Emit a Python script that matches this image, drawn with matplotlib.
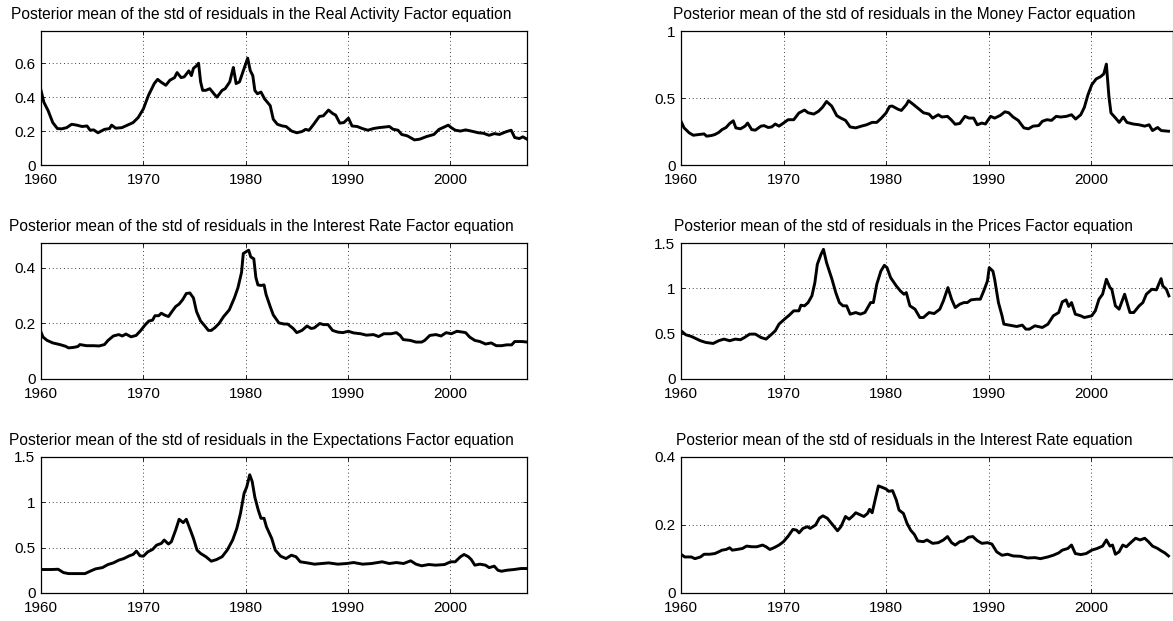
import numpy as np
import matplotlib
matplotlib.use('Agg')
import matplotlib.pyplot as plt
from matplotlib.ticker import FuncFormatter

plt.rcParams['font.family'] = ['Liberation Sans', 'DejaVu Sans']

# ─────────────────────────────────────────────
# Data: posterior mean of the std of residuals
# ─────────────────────────────────────────────
real_yr = [1960.0, 1960.28, 1960.7, 1961.15, 1961.6, 1962.0, 1962.5, 1963.0, 1963.5, 1964.0,
           1964.5, 1964.8, 1965.15, 1965.57, 1966.2, 1966.7, 1966.9, 1967.3, 1967.9, 1968.45,
           1969.0, 1969.5, 1970.0, 1970.5, 1971.07, 1971.4, 1971.7, 1972.2, 1972.6, 1973.05,
           1973.3, 1973.7, 1974.0, 1974.45, 1974.7, 1974.9, 1975.2, 1975.4, 1975.6, 1975.8,
           1976.1, 1976.5, 1976.9, 1977.2, 1977.7, 1978.0, 1978.45, 1978.65, 1978.8, 1979.07,
           1979.4, 1979.77, 1980.0, 1980.2, 1980.45, 1980.7, 1980.9, 1981.15, 1981.5, 1981.85,
           1982.4, 1982.7, 1983.1, 1983.6, 1983.95, 1984.5, 1985.0, 1985.5, 1985.85, 1986.2,
           1986.65, 1987.2, 1987.6, 1988.1, 1988.5, 1988.8, 1989.2, 1989.6, 1990.05, 1990.4,
           1990.9, 1991.4, 1991.95, 1992.5, 1993.0, 1994.05, 1994.4, 1994.9, 1995.25, 1995.8,
           1996.5, 1997.0, 1997.7, 1998.4, 1998.9, 1999.45, 1999.8, 2000.1, 2000.5, 2001.0,
           2001.5, 2002.05, 2002.75, 2003.25, 2003.8, 2004.3, 2004.8, 2005.5, 2005.95, 2006.3,
           2006.75, 2007.1, 2007.5]
real_sd = [0.44, 0.37, 0.32, 0.25, 0.215, 0.213, 0.22, 0.24, 0.235, 0.227,
           0.23, 0.205, 0.207, 0.19, 0.21, 0.215, 0.235, 0.217, 0.22, 0.235,
           0.25, 0.28, 0.33, 0.41, 0.48, 0.505, 0.49, 0.47, 0.50, 0.515,
           0.545, 0.515, 0.52, 0.555, 0.527, 0.57, 0.585, 0.60, 0.49, 0.44,
           0.44, 0.45, 0.42, 0.40, 0.44, 0.45, 0.49, 0.54, 0.575, 0.48,
           0.49, 0.555, 0.595, 0.63, 0.557, 0.527, 0.44, 0.42, 0.43, 0.39,
           0.35, 0.27, 0.24, 0.23, 0.227, 0.20, 0.19, 0.197, 0.21, 0.205,
           0.24, 0.286, 0.29, 0.324, 0.304, 0.294, 0.247, 0.25, 0.276, 0.23,
           0.227, 0.215, 0.205, 0.215, 0.22, 0.227, 0.211, 0.205, 0.18, 0.172,
           0.148, 0.152, 0.168, 0.18, 0.21, 0.225, 0.235, 0.22, 0.205, 0.20,
           0.207, 0.20, 0.19, 0.187, 0.175, 0.185, 0.18, 0.197, 0.205, 0.162,
           0.156, 0.166, 0.152]

money_yr = [1960.0, 1960.3, 1960.8, 1961.2, 1961.7, 1962.25, 1962.5, 1962.96, 1963.3, 1963.7,
            1964.0, 1964.4, 1964.75, 1965.1, 1965.35, 1965.8, 1966.25, 1966.5, 1966.9, 1967.25,
            1967.8, 1968.1, 1968.5, 1968.85, 1969.2, 1969.56, 1970.0, 1970.45, 1971.0, 1971.5,
            1972.05, 1972.4, 1972.95, 1973.4, 1973.8, 1974.2, 1974.7, 1975.2, 1975.6, 1976.05,
            1976.5, 1977.05, 1977.6, 1978.1, 1978.65, 1979.1, 1979.55, 1980.0, 1980.35, 1980.6,
            1981.15, 1981.5, 1981.98, 1982.2, 1982.7, 1983.1, 1983.65, 1984.2, 1984.55, 1985.1,
            1985.45, 1986.0, 1986.35, 1986.75, 1987.2, 1987.7, 1988.1, 1988.55, 1988.9, 1989.35,
            1989.7, 1990.2, 1990.6, 1991.15, 1991.6, 1991.97, 1992.4, 1992.9, 1993.45, 1993.9,
            1994.35, 1994.9, 1995.25, 1995.7, 1996.15, 1996.6, 1997.05, 1997.6, 1998.1, 1998.5,
            1999.0, 1999.35, 1999.7, 2000.07, 2000.5, 2000.95, 2001.25, 2001.5, 2001.75, 2001.95,
            2002.4, 2002.75, 2003.15, 2003.5, 2004.1, 2004.7, 2005.24, 2005.67, 2006.0, 2006.5,
            2006.85, 2007.56]
money_sd = [0.326, 0.277, 0.24, 0.222, 0.227, 0.232, 0.215, 0.22, 0.227, 0.244,
            0.264, 0.28, 0.31, 0.33, 0.277, 0.27, 0.29, 0.313, 0.264, 0.26,
            0.29, 0.294, 0.28, 0.284, 0.306, 0.29, 0.313, 0.338, 0.338, 0.388,
            0.41, 0.39, 0.38, 0.40, 0.43, 0.474, 0.44, 0.368, 0.35, 0.333,
            0.284, 0.277, 0.29, 0.30, 0.318, 0.318, 0.35, 0.388, 0.437, 0.44,
            0.417, 0.407, 0.45, 0.48, 0.45, 0.425, 0.39, 0.38, 0.35, 0.375,
            0.358, 0.363, 0.338, 0.304, 0.31, 0.363, 0.35, 0.35, 0.30, 0.313,
            0.306, 0.363, 0.35, 0.37, 0.397, 0.39, 0.358, 0.333, 0.277, 0.27,
            0.29, 0.294, 0.326, 0.338, 0.333, 0.363, 0.358, 0.363, 0.375, 0.343,
            0.375, 0.43, 0.523, 0.598, 0.642, 0.66, 0.68, 0.753, 0.51, 0.388,
            0.35, 0.318, 0.358, 0.318, 0.306, 0.30, 0.29, 0.30, 0.257, 0.28,
            0.257, 0.252]

irf_yr = [1960.0, 1960.2, 1960.6, 1961.15, 1961.85, 1962.4, 1962.7, 1963.2, 1963.6, 1963.8,
          1964.45, 1965.15, 1965.67, 1966.2, 1966.55, 1967.07, 1967.6, 1967.95, 1968.3, 1968.8,
          1969.3, 1969.75, 1970.2, 1970.55, 1970.9, 1971.14, 1971.5, 1971.76, 1972.1, 1972.46,
          1972.8, 1973.16, 1973.5, 1973.85, 1974.2, 1974.55, 1974.9, 1975.2, 1975.6, 1975.95,
          1976.36, 1976.64, 1977.0, 1977.4, 1977.85, 1978.4, 1978.9, 1979.25, 1979.6, 1979.77,
          1980.1, 1980.3, 1980.5, 1980.8, 1981.0, 1981.2, 1981.5, 1981.8, 1982.0, 1982.4,
          1982.7, 1983.25, 1983.77, 1984.1, 1984.65, 1985.0, 1985.5, 1986.0, 1986.4, 1986.7,
          1987.25, 1987.6, 1988.05, 1988.5, 1989.0, 1989.5, 1990.04, 1990.56, 1991.25, 1991.8,
          1992.5, 1993.0, 1993.5, 1994.2, 1994.74, 1995.1, 1995.4, 1996.1, 1996.65, 1997.2,
          1997.5, 1998.0, 1998.6, 1999.1, 1999.6, 2000.1, 2000.65, 2001.2, 2001.5, 2001.9,
          2002.4, 2002.9, 2003.45, 2004.0, 2004.5, 2005.0, 2005.5, 2006.0, 2006.3, 2007.0,
          2007.55]
irf_sd = [0.169, 0.151, 0.139, 0.13, 0.124, 0.118, 0.112, 0.114, 0.117, 0.124,
          0.12, 0.12, 0.119, 0.124, 0.139, 0.155, 0.16, 0.155, 0.162, 0.152,
          0.157, 0.175, 0.196, 0.209, 0.212, 0.228, 0.228, 0.237, 0.23, 0.225,
          0.243, 0.261, 0.27, 0.286, 0.308, 0.31, 0.292, 0.243, 0.209, 0.194,
          0.175, 0.175, 0.185, 0.2, 0.225, 0.249, 0.292, 0.329, 0.384, 0.452,
          0.46, 0.464, 0.44, 0.433, 0.366, 0.339, 0.337, 0.339, 0.304, 0.261,
          0.231, 0.202, 0.198, 0.198, 0.182, 0.167, 0.175, 0.191, 0.182, 0.184,
          0.2, 0.196, 0.196, 0.175, 0.169, 0.167, 0.172, 0.166, 0.163, 0.158,
          0.16, 0.153, 0.163, 0.163, 0.167, 0.157, 0.142, 0.139, 0.133, 0.133,
          0.139, 0.157, 0.16, 0.155, 0.167, 0.163, 0.172, 0.169, 0.167, 0.151,
          0.139, 0.135, 0.126, 0.13, 0.12, 0.12, 0.123, 0.123, 0.135, 0.135,
          0.133]

prices_yr = [1960.0, 1960.46, 1961.0, 1961.43, 1961.9, 1962.43, 1963.14, 1963.67, 1964.2, 1964.75,
             1965.3, 1965.8, 1966.2, 1966.7, 1967.25, 1967.8, 1968.3, 1968.85, 1969.2, 1969.56,
             1970.1, 1970.56, 1971.0, 1971.5, 1971.7, 1972.05, 1972.4, 1972.77, 1973.06, 1973.3,
             1973.66, 1973.9, 1974.2, 1974.73, 1975.1, 1975.45, 1975.8, 1976.16, 1976.5, 1977.05,
             1977.5, 1977.94, 1978.5, 1978.77, 1979.1, 1979.5, 1979.84, 1980.1, 1980.45, 1981.0,
             1981.4, 1981.75, 1981.98, 1982.33, 1982.83, 1983.3, 1983.65, 1984.2, 1984.7, 1985.25,
             1985.6, 1986.04, 1986.4, 1986.75, 1987.2, 1987.6, 1987.93, 1988.3, 1988.83, 1989.2,
             1989.54, 1989.9, 1990.07, 1990.43, 1990.6, 1990.97, 1991.32, 1991.5, 1992.04, 1992.75,
             1993.3, 1993.64, 1994.0, 1994.53, 1995.25, 1995.8, 1996.32, 1996.85, 1997.2, 1997.57,
             1997.82, 1998.1, 1998.47, 1999.0, 1999.35, 2000.07, 2000.42, 2000.78, 2001.13, 2001.5,
             2001.85, 2002.03, 2002.38, 2002.74, 2003.1, 2003.28, 2003.56, 2003.8, 2004.17, 2004.7,
             2005.06, 2005.4, 2005.94, 2006.38, 2006.84, 2007.0, 2007.35, 2007.6]
prices_sd = [0.532, 0.488, 0.47, 0.447, 0.422, 0.403, 0.392, 0.422, 0.44, 0.422,
             0.44, 0.433, 0.458, 0.495, 0.495, 0.458, 0.44, 0.495, 0.532, 0.605,
             0.66, 0.704, 0.752, 0.752, 0.814, 0.807, 0.843, 0.917, 1.063, 1.265,
             1.375, 1.43, 1.283, 1.10, 0.953, 0.843, 0.807, 0.807, 0.715, 0.733,
             0.715, 0.733, 0.843, 0.843, 1.045, 1.19, 1.254, 1.228, 1.118, 1.027,
             0.972, 0.935, 0.953, 0.807, 0.77, 0.678, 0.678, 0.733, 0.722, 0.77,
             0.862, 1.008, 0.88, 0.788, 0.825, 0.843, 0.843, 0.873, 0.88, 0.88,
             0.972, 1.082, 1.228, 1.19, 1.10, 0.843, 0.697, 0.605, 0.594, 0.579,
             0.594, 0.55, 0.55, 0.587, 0.568, 0.605, 0.697, 0.733, 0.851, 0.873,
             0.80, 0.843, 0.715, 0.697, 0.678, 0.697, 0.752, 0.88, 0.935, 1.10,
             1.008, 0.99, 0.807, 0.77, 0.88, 0.935, 0.825, 0.733, 0.733, 0.807,
             0.843, 0.935, 0.99, 0.983, 1.107, 1.027, 0.99, 0.917]

expect_yr = [1960.0, 1961.0, 1961.67, 1962.2, 1962.7, 1963.6, 1964.3, 1964.8, 1965.33, 1966.0,
             1966.55, 1967.07, 1967.6, 1968.1, 1968.63, 1969.0, 1969.33, 1969.68, 1970.0, 1970.44,
             1970.9, 1971.3, 1971.76, 1972.04, 1972.46, 1972.74, 1973.16, 1973.5, 1973.9, 1974.2,
             1974.48, 1974.9, 1975.25, 1975.6, 1976.12, 1976.64, 1977.16, 1977.7, 1978.2, 1978.73,
             1979.14, 1979.5, 1979.85, 1980.1, 1980.4, 1980.64, 1980.9, 1981.23, 1981.5, 1981.8,
             1982.03, 1982.55, 1982.9, 1983.42, 1983.95, 1984.47, 1984.92, 1985.34, 1986.03, 1986.73,
             1987.43, 1988.12, 1989.0, 1989.86, 1990.56, 1991.43, 1992.3, 1993.35, 1994.04, 1994.74,
             1995.43, 1996.13, 1996.65, 1997.2, 1997.9, 1998.57, 1999.44, 2000.03, 2000.48, 2001.0,
             2001.35, 2001.77, 2002.05, 2002.4, 2002.9, 2003.44, 2003.8, 2004.3, 2004.66, 2005.0,
             2005.53, 2006.22, 2006.92, 2007.55]
expect_sd = [0.259, 0.259, 0.262, 0.225, 0.214, 0.214, 0.214, 0.24, 0.266, 0.28,
             0.314, 0.332, 0.362, 0.38, 0.41, 0.425, 0.462, 0.41, 0.406, 0.454,
             0.48, 0.528, 0.547, 0.584, 0.54, 0.565, 0.694, 0.813, 0.776, 0.813,
             0.73, 0.602, 0.473, 0.436, 0.4, 0.351, 0.369, 0.4, 0.473, 0.584,
             0.713, 0.88, 1.10, 1.167, 1.304, 1.23, 1.057, 0.916, 0.824, 0.824,
             0.731, 0.602, 0.473, 0.406, 0.38, 0.417, 0.4, 0.344, 0.332, 0.318,
             0.325, 0.332, 0.318, 0.325, 0.336, 0.318, 0.325, 0.344, 0.325, 0.336,
             0.325, 0.355, 0.318, 0.3, 0.314, 0.307, 0.314, 0.344, 0.344, 0.4,
             0.425, 0.4, 0.369, 0.307, 0.318, 0.307, 0.28, 0.296, 0.251, 0.24,
             0.251, 0.259, 0.27, 0.27]

ir_yr = [1960.0, 1960.36, 1961.0, 1961.36, 1961.9, 1962.25, 1962.8, 1963.3, 1963.67, 1964.0,
         1964.4, 1964.75, 1965.0, 1965.46, 1966.0, 1966.4, 1966.9, 1967.4, 1967.96, 1968.3,
         1968.67, 1969.13, 1969.56, 1970.0, 1970.45, 1970.92, 1971.27, 1971.52, 1971.9, 1972.34,
         1972.6, 1973.13, 1973.5, 1973.84, 1974.27, 1974.73, 1975.27, 1975.6, 1976.05, 1976.4,
         1976.77, 1977.05, 1977.48, 1977.84, 1978.2, 1978.4, 1978.65, 1979.0, 1979.26, 1979.6,
         1980.0, 1980.27, 1980.64, 1981.0, 1981.27, 1981.7, 1982.05, 1982.4, 1982.77, 1983.1,
         1983.65, 1984.0, 1984.55, 1985.1, 1985.6, 1986.0, 1986.4, 1986.75, 1987.2, 1987.58,
         1988.04, 1988.47, 1988.9, 1989.36, 1989.9, 1990.33, 1990.8, 1991.32, 1991.86, 1992.4,
         1993.1, 1993.8, 1994.53, 1995.07, 1995.78, 1996.32, 1996.85, 1997.2, 1997.74, 1998.1,
         1998.47, 1999.0, 1999.53, 2000.07, 2000.6, 2001.13, 2001.5, 2001.85, 2002.1, 2002.38,
         2002.74, 2003.1, 2003.45, 2003.8, 2004.35, 2004.8, 2005.24, 2005.6, 2006.0, 2006.5,
         2006.85, 2007.2, 2007.56]
ir_sd = [0.114, 0.106, 0.106, 0.101, 0.106, 0.114, 0.114, 0.116, 0.121, 0.126,
         0.128, 0.133, 0.126, 0.128, 0.131, 0.138, 0.136, 0.136, 0.141, 0.136,
         0.128, 0.134, 0.141, 0.151, 0.167, 0.187, 0.185, 0.177, 0.19, 0.195,
         0.19, 0.2, 0.22, 0.227, 0.22, 0.203, 0.183, 0.195, 0.225, 0.217,
         0.227, 0.236, 0.23, 0.225, 0.234, 0.246, 0.236, 0.282, 0.315, 0.311,
         0.306, 0.299, 0.301, 0.274, 0.244, 0.234, 0.205, 0.185, 0.172, 0.153,
         0.151, 0.156, 0.146, 0.148, 0.156, 0.166, 0.148, 0.141, 0.151, 0.153,
         0.164, 0.166, 0.154, 0.146, 0.148, 0.144, 0.121, 0.111, 0.114, 0.109,
         0.108, 0.103, 0.104, 0.101, 0.106, 0.111, 0.118, 0.126, 0.131, 0.141,
         0.116, 0.113, 0.116, 0.126, 0.131, 0.138, 0.156, 0.138, 0.141, 0.114,
         0.121, 0.141, 0.136, 0.146, 0.161, 0.156, 0.161, 0.151, 0.138, 0.131,
         0.124, 0.118, 0.109]

titles = ['Real Activity Factor', 'Money Factor', 'Interest Rate Factor',
          'Prices Factor', 'Expectations Factor', 'Interest Rate']
x_ticks = [1960, 1970, 1980, 1990, 2000]

# (years, values, y-limit top, y-ticks) per panel, row by row
panels = [
    (real_yr, real_sd, 0.79, [0, 0.2, 0.4, 0.6]),
    (money_yr, money_sd, 1.0, [0, 0.5, 1]),
    (irf_yr, irf_sd, 0.49, [0, 0.2, 0.4]),
    (prices_yr, prices_sd, 1.5, [0, 0.5, 1, 1.5]),
    (expect_yr, expect_sd, 1.5, [0, 0.5, 1, 1.5]),
    (ir_yr, ir_sd, 0.4, [0, 0.2, 0.4]),
]

# ─────────────────────────────────────────────
# Layout (pixel boxes)
# ─────────────────────────────────────────────
W, H = 1173, 621
col_left = [(41, 486, 2007.5), (681, 492, 2008.0)]   # left px, width px, x max
row_top = [(31, 134), (243, 136), (457, 136)]         # top px, height px

fig = plt.figure(figsize=(W / 100, H / 100), dpi=100)
fmt = FuncFormatter(lambda v, p: f'{v:g}')

for i, (yr, sd, ytop, yt) in enumerate(panels):
    r, c = divmod(i, 2)
    x0, w, xmax = col_left[c]
    y0, h = row_top[r]
    ax = fig.add_axes([x0 / W, 1 - (y0 + h) / H, w / W, h / H])

    ax.plot(yr, sd, color='black', lw=2.1, solid_joinstyle='round')

    ax.set_xlim(1960, xmax)
    ax.set_ylim(0, ytop)
    ax.set_xticks(x_ticks)
    ax.set_yticks(yt)
    ax.yaxis.set_major_formatter(fmt)
    ax.grid(True, color='black', linestyle=(0, (1, 3.5)), linewidth=0.6)
    ax.tick_params(direction='in', length=3, width=0.6, labelsize=11,
                   top=True, right=True)
    ax.tick_params(axis='x', pad=5.5)
    ax.tick_params(axis='y', pad=4)
    for s in ax.spines.values():
        s.set_linewidth(0.9)

    ax.set_title('Posterior mean of the std of residuals in the ' + titles[i] + ' equation',
                 fontsize=11.2, x=0.453, pad=8.5)

fig.savefig('out.png', dpi=100)
